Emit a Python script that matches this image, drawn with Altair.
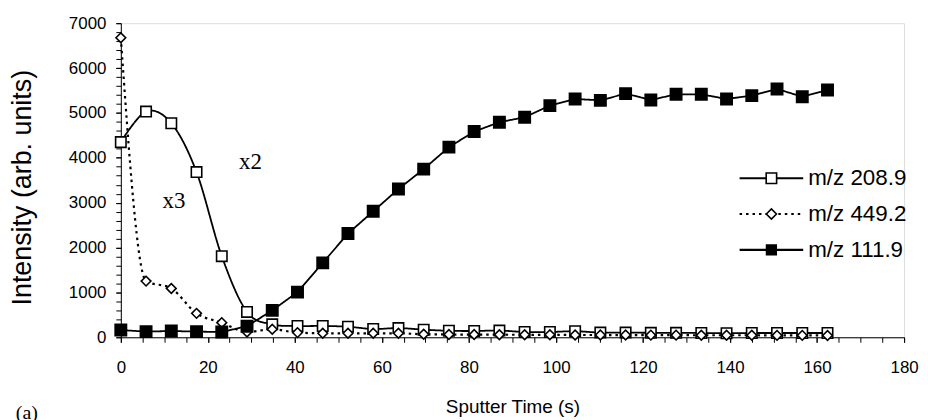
import altair as alt
import pandas as pd

# ---- data ----
time_s = [0, 5.8, 11.6, 17.4, 23.2, 29.0, 34.8, 40.6, 46.4, 52.2, 58.0, 63.8, 69.6, 75.4,
          81.2, 87.0, 92.8, 98.6, 104.4, 110.2, 116.0, 121.8, 127.6, 133.4, 139.2, 145.0,
          150.8, 156.6, 162.4]
mz_208 = [4349, 5030, 4770, 3681, 1807, 565, 289, 252, 252, 235, 185, 205, 170, 145,
          140, 150, 118, 118, 135, 104, 104, 100, 100, 95, 90, 95, 95, 95, 95]
mz_449 = [6674, 1252, 1089, 533, 326, 118, 178, 104, 89, 89, 89, 89, 67, 62,
          60, 58, 55, 55, 52, 50, 50, 48, 48, 45, 45, 45, 42, 42, 40]
mz_111 = [162, 126, 140, 126, 118, 245, 600, 1007, 1659, 2311, 2807, 3304, 3748, 4237,
          4585, 4793, 4904, 5163, 5311, 5280, 5430, 5289, 5415, 5415, 5311, 5385,
          5533, 5362, 5511]

series_names = ["m/z 208.9", "m/z 449.2", "m/z 111.9"]
series_values = [mz_208, mz_449, mz_111]

notes_text = ["x2", "x3"]
notes_time = [29.8, 12.2]
notes_value = [3900, 3030]

x_major = [0, 20, 40, 60, 80, 100, 120, 140, 160, 180]
x_minor = [0, 5, 10, 15, 20, 25, 30, 35, 40, 45, 50, 55, 60, 65, 70, 75, 80, 85, 90, 95,
           100, 105, 110, 115, 120, 125, 130, 135, 140, 145, 150, 155, 160, 165, 170, 175, 180]
y_major = [0, 1000, 2000, 3000, 4000, 5000, 6000, 7000]
y_minor = [0, 200, 400, 600, 800, 1000, 1200, 1400, 1600, 1800, 2000, 2200, 2400, 2600,
           2800, 3000, 3200, 3400, 3600, 3800, 4000, 4200, 4400, 4600, 4800, 5000, 5200,
           5400, 5600, 5800, 6000, 6200, 6400, 6600, 6800, 7000]

# ---- styling ----
W, H = 788, 316
SANS = "Liberation Sans"
SERIF = "Liberation Serif"
shapes = ["square", "diamond", "square"]
fills = ["white", "white", "black"]
dashes = [[1, 0], [2.5, 4], [1, 0]]
interps = ["cardinal", "monotone", "linear"]
sizes = [110, 95, 130]
line_w = [1.8, 2.2, 1.8]

xs = alt.Scale(domain=[0, 180], nice=False, zero=False)
ys = alt.Scale(domain=[0, 7000], nice=False)

layers = []
for name, vals, shp, fl, dsh, itp, sz, lw in zip(series_names, series_values, shapes, fills,
                                                  dashes, interps, sizes, line_w):
    df = pd.DataFrame({"t": time_s, "v": vals, "series": name})
    base = alt.Chart(df).encode(
        x=alt.X("t:Q", scale=xs, axis=None),
        y=alt.Y("v:Q", scale=ys, axis=None),
    )
    line = base.mark_line(color="black", strokeWidth=lw, strokeDash=dsh, interpolate=itp)
    pts = base.mark_point(shape=shp, filled=True, fill=fl, stroke="black",
                          strokeWidth=1.6, size=sz, opacity=1)
    layers += [line, pts]

# axes (major with labels, minor ticks without)
axis_df = pd.DataFrame({"t": [0, 180], "v": [0, 7000]})
ax_major = alt.Chart(axis_df).mark_point(opacity=0).encode(
    x=alt.X("t:Q", scale=xs, title="Sputter Time (s)",
            axis=alt.Axis(orient="bottom", values=x_major, format="d", labelFont=SANS,
                          labelFontSize=17, labelColor="black", tickColor="black",
                          domainColor="black", tickSize=5, labelPadding=17, grid=False,
                          labelFlush=False, titleFont=SANS, titleFontSize=19,
                          titleFontWeight="normal", titleColor="black", titleY=70,
                          titleBaseline="middle")),
    y=alt.Y("v:Q", scale=ys, title="Intensity (arb. units)",
            axis=alt.Axis(orient="left", values=y_major, format="d", labelFont=SANS,
                          labelFontSize=17, labelColor="black", tickColor="black",
                          domainColor="black", tickSize=5, labelPadding=10, grid=False,
                          labelFlush=False, titleFont=SANS, titleFontSize=27,
                          titleFontWeight="normal", titleColor="black", titleX=-98.5,
                          titleY=165, titleBaseline="middle")),
)
ax_minor = alt.Chart(axis_df).mark_point(opacity=0).encode(
    x=alt.X("t:Q", scale=xs, title=None,
            axis=alt.Axis(orient="bottom", values=x_minor, labels=False, tickColor="black",
                          domain=False, tickSize=5, grid=False)),
    y=alt.Y("v:Q", scale=ys, title=None,
            axis=alt.Axis(orient="left", values=y_minor, labels=False, tickColor="black",
                          domain=False, tickSize=5, grid=False)),
)

notes_df = pd.DataFrame({"t": notes_time, "v": notes_value, "txt": notes_text})
notes = alt.Chart(notes_df).mark_text(font=SERIF, fontSize=23, color="black").encode(
    x=alt.X("t:Q", scale=xs, axis=None),
    y=alt.Y("v:Q", scale=ys, axis=None),
    text="txt:N",
)

data_layer = alt.layer(ax_minor, ax_major, *layers, notes).resolve_axis(
    x="independent", y="independent")

# legend built from the series list
leg_df = pd.DataFrame({"series": series_names})
ly = alt.Y("series:N", scale=alt.Scale(type="point", domain=series_names, range=[156, 228],
                                       padding=0), axis=None)
leg_rule = alt.Chart(leg_df).mark_rule(color="black").encode(
    x=alt.value(622.5), x2=alt.value(686.5), y=ly,
    strokeDash=alt.StrokeDash("series:N", scale=alt.Scale(domain=series_names, range=dashes),
                              legend=None),
    strokeWidth=alt.StrokeWidth("series:N", scale=alt.Scale(domain=series_names, range=line_w),
                                legend=None),
)
leg_pt = alt.Chart(leg_df).mark_point(filled=True, stroke="black", strokeWidth=1.6,
                                      opacity=1).encode(
    x=alt.value(654.5), y=ly,
    shape=alt.Shape("series:N", scale=alt.Scale(domain=series_names, range=shapes), legend=None),
    fill=alt.Fill("series:N", scale=alt.Scale(domain=series_names, range=fills), legend=None),
    size=alt.Size("series:N", scale=alt.Scale(domain=series_names, range=sizes), legend=None),
)
leg_txt = alt.Chart(leg_df).mark_text(font=SANS, fontSize=22.5, align="left", baseline="middle",
                                      color="black").encode(
    x=alt.value(691.5), y=ly, text="series:N")
tag = alt.Chart(pd.DataFrame({"t": ["(a)"]})).mark_text(
    font=SERIF, fontSize=20, align="center", baseline="middle", color="black").encode(
    x=alt.value(-94.5), y=alt.value(392), text="t:N")

legend_layer = alt.layer(leg_rule, leg_pt, leg_txt, tag)

chart = alt.layer(data_layer, legend_layer).resolve_scale(
    y="independent", x="independent", shape="independent", fill="independent",
    strokeDash="independent", size="independent", strokeWidth="independent"
).properties(
    width=W, height=H,
    autosize=alt.AutoSizeParams(type="none"),
    padding={"left": 113.5, "top": 14, "right": 16, "bottom": 90},
).configure_view(stroke=None).configure(background="white")

chart.save("out.html", embed_options={"renderer": "svg", "actions": False})
